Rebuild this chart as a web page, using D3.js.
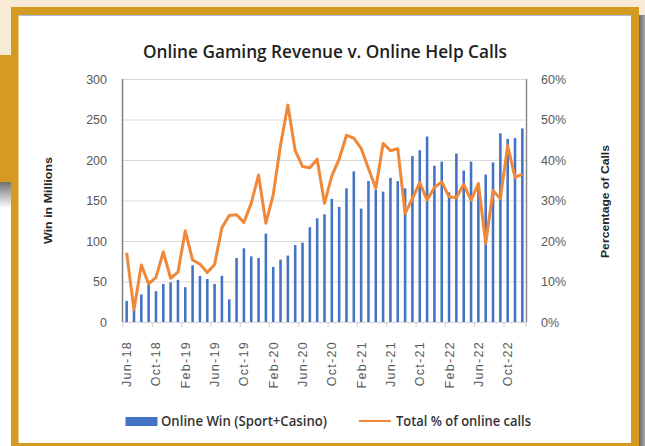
<!DOCTYPE html>
<html>
<head>
<meta charset="utf-8">
<script src="https://cdn.jsdelivr.net/npm/d3@7"></script>
<style>
html, body {margin:0; padding:0; background:#fff;}
svg {display:block; font-family:"Liberation Sans", Arial, sans-serif;}
</style>
</head>
<body>
<svg id="chart" width="645" height="446"></svg>
<script>
// monthly categories, Jun-18 .. Dec-22
var months = ["Jun-18","Jul-18","Aug-18","Sep-18","Oct-18","Nov-18","Dec-18",
    "Jan-19","Feb-19","Mar-19","Apr-19","May-19","Jun-19","Jul-19","Aug-19","Sep-19","Oct-19","Nov-19","Dec-19",
    "Jan-20","Feb-20","Mar-20","Apr-20","May-20","Jun-20","Jul-20","Aug-20","Sep-20","Oct-20","Nov-20","Dec-20",
    "Jan-21","Feb-21","Mar-21","Apr-21","May-21","Jun-21","Jul-21","Aug-21","Sep-21","Oct-21","Nov-21","Dec-21",
    "Jan-22","Feb-22","Mar-22","Apr-22","May-22","Jun-22","Jul-22","Aug-22","Sep-22","Oct-22","Nov-22","Dec-22"];
// Online Win (Sport+Casino), millions
var onlineWin = [26,15,34,46,38,47,49,52,43,70,57,53,47,57,28,79,91,81,79,109,
    68,77,82,95,98,117,128,133,152,142,165,186,140,174,163,161,178,174,165,205,
    212,229,193,198,160,208,187,198,170,182,197,233,226,227,239];
// Total % of online calls
var callPct = [17.1,3.0,14.1,9.4,11.0,17.3,10.8,12.3,22.5,15.3,14.3,12.2,14.2,23.3,26.3,
    26.5,24.6,29.3,36.3,24.4,31.4,43.7,53.6,42.3,38.4,38.1,40.2,29.3,36.1,40.2,
    46.1,45.4,42.9,37.9,33.0,44.1,42.3,42.8,26.8,30.5,34.4,30.1,33.2,34.6,30.9,
    30.7,34.0,30.1,34.2,19.4,32.4,30.5,43.5,35.7,36.5];
var winTicks = [0,50,100,150,200,250,300];
var pctTicks = [0,10,20,30,40,50,60];

var svg = d3.select("#chart");
var gold = "#d49a22", beige = "#f7ead6";
var headFont = "'Open Sans', 'Liberation Sans', sans-serif";

//background, frame and shadows
var defs = svg.append("defs");
var g1 = defs.append("linearGradient").attr("id","shadeL").attr("x1",0).attr("y1",0).attr("x2",0).attr("y2",1);
g1.append("stop").attr("offset","0%").attr("stop-color","#707070");
g1.append("stop").attr("offset","100%").attr("stop-color","#ffffff");
var g2 = defs.append("linearGradient").attr("id","shadeR").attr("x1",0).attr("y1",0).attr("x2",1).attr("y2",0);
g2.append("stop").attr("offset","0%").attr("stop-color","#6a6a6a");
g2.append("stop").attr("offset","100%").attr("stop-color","#a8a8a8");

svg.append("rect").attr("width",645).attr("height",446).attr("fill","#fff");
svg.append("rect").attr("width",645).attr("height",15).attr("fill",beige);
svg.append("rect").attr("width",11).attr("height",55).attr("fill",beige);
svg.append("rect").attr("y",55).attr("width",11).attr("height",127).attr("fill",gold);
svg.append("rect").attr("y",182).attr("width",11).attr("height",26).attr("fill","url(#shadeL)");
svg.append("rect").attr("x",639).attr("y",15).attr("width",6).attr("height",431).attr("fill","url(#shadeR)");
svg.append("rect").attr("x",11).attr("y",7).attr("width",628).attr("height",439).attr("fill",gold);
svg.append("rect").attr("x",18.5).attr("y",15).attr("width",612.5).attr("height",428).attr("fill","#fff");
svg.append("line").attr("x1",18.5).attr("x2",631).attr("y1",15.5).attr("y2",15.5)
    .attr("stroke","#a9bfdc").attr("stroke-width",1);

//scales
var plotL = 123, plotR = 526, plotT = 79, plotB = 322;
var x = d3.scaleBand().domain(months).range([plotL, plotR]).paddingInner(0.65).paddingOuter(0.325);
var yWin = d3.scaleLinear().domain([0,300]).range([plotB, plotT]);
var yPct = d3.scaleLinear().domain([0,60]).range([plotB, plotT]);
var cx = function(m){ return x(m) + x.bandwidth()/2; };

//gridlines
var grid = svg.append("g").attr("transform","translate(" + plotL + ",0)")
    .call(d3.axisLeft(yWin).tickValues(winTicks).tickSize(-(plotR-plotL)).tickFormat(""));
grid.select(".domain").remove();
grid.selectAll("line").attr("stroke","#d9d9d9");

//left axis
var ax = svg.append("g").attr("transform","translate(" + plotL + ",0)")
    .call(d3.axisLeft(yWin).tickValues(winTicks).tickSize(0).tickPadding(16));
ax.select(".domain").remove();
ax.selectAll("text").attr("font-size",12.5).attr("fill","#595959").attr("font-family","Liberation Sans, sans-serif");

//right axis
var axR = svg.append("g").attr("transform","translate(" + plotR + ",0)")
    .call(d3.axisRight(yPct).tickValues(pctTicks).tickSize(0).tickPadding(15).tickFormat(function(d){return d + "%";}));
axR.select(".domain").remove();
axR.selectAll("text").attr("font-size",12.5).attr("fill","#595959").attr("font-family","Liberation Sans, sans-serif");

//bars
svg.append("g").selectAll("rect")
    .data(onlineWin).enter()
    .append("rect")
    .attr("x", function(d, i){return x(months[i]);})
    .attr("width", x.bandwidth())
    .attr("y", function(d){return yWin(d);})
    .attr("height", function(d){return plotB - yWin(d);})
    .attr("fill", "#4472c4");

//axis lines
svg.append("line").attr("x1",plotL).attr("x2",plotR).attr("y1",plotB+0.5).attr("y2",plotB+0.5).attr("stroke","#d0d0d0");
svg.append("line").attr("x1",plotL-0.5).attr("x2",plotL-0.5).attr("y1",plotT).attr("y2",plotB).attr("stroke","#7f7f7f").attr("stroke-width",1.5);
svg.append("line").attr("x1",plotR+0.5).attr("x2",plotR+0.5).attr("y1",plotT).attr("y2",plotB).attr("stroke","#8a8a8a").attr("stroke-width",1.5);

//x tick marks every 4 months
var tickIdx = d3.range(0, months.length, 4).concat([months.length]);
svg.append("g").selectAll("line")
    .data(tickIdx).enter()
    .append("line")
    .attr("x1", function(i){return plotL + i*x.step();})
    .attr("x2", function(i){return plotL + i*x.step();})
    .attr("y1", plotB).attr("y2", plotB+5)
    .attr("stroke","#d0d0d0");

//x labels
var ax2 = svg.append("g").attr("transform","translate(0," + plotB + ")")
    .call(d3.axisBottom(x).tickValues(months.filter(function(d, i){return i % 4 === 0;})).tickSize(0));
ax2.select(".domain").remove();
ax2.selectAll("text")
    .attr("transform","rotate(-90)")
    .attr("x",-19).attr("y",0).attr("dy",".36em")
    .attr("text-anchor","end")
    .attr("font-size",12.5)
    .attr("letter-spacing","1.3px")
    .attr("fill","#595959")
    .attr("font-family","Liberation Sans, sans-serif");

//line
var line = d3.line()
    .x(function(d, i){return cx(months[i]);})
    .y(function(d){return yPct(d);});
svg.append("path")
    .datum(callPct)
    .attr("d", line)
    .attr("fill","none")
    .attr("stroke","#f0883a")
    .attr("stroke-width",3)
    .attr("stroke-linejoin","round");

//titles
svg.append("text").attr("x",325).attr("y",58).attr("text-anchor","middle")
    .attr("font-family",headFont).attr("font-weight",600)
    .attr("font-size",17.5).attr("fill","#1e1e1e")
    .attr("textLength",364).attr("lengthAdjust","spacingAndGlyphs")
    .text("Online Gaming Revenue v. Online Help Calls");
svg.append("text").attr("transform","translate(48,200.5) rotate(-90)")
    .attr("text-anchor","middle").attr("dy",".35em")
    .attr("font-size",11.5).attr("font-weight","bold").attr("fill","#262626")
    .attr("textLength",87).attr("lengthAdjust","spacingAndGlyphs")
    .text("Win in Millions");
svg.append("text").attr("transform","translate(605,201.5) rotate(-90)")
    .attr("text-anchor","middle").attr("dy",".35em")
    .attr("font-size",11.5).attr("font-weight","bold").attr("fill","#262626")
    .attr("textLength",113).attr("lengthAdjust","spacingAndGlyphs")
    .text("Percentage of Calls");

//legend
var lg = svg.append("g");
lg.append("rect").attr("x",125.5).attr("y",417).attr("width",32).attr("height",9).attr("fill","#4472c4");
lg.append("text").attr("x",161).attr("y",421).attr("dy",".35em")
    .attr("font-family",headFont).attr("font-weight",600)
    .attr("font-size",13.5).attr("fill","#333")
    .attr("textLength",166).attr("lengthAdjust","spacingAndGlyphs")
    .text("Online Win (Sport+Casino)");
lg.append("line").attr("x1",359).attr("x2",391).attr("y1",421).attr("y2",421)
    .attr("stroke","#f0883a").attr("stroke-width",2);
lg.append("text").attr("x",396).attr("y",421).attr("dy",".35em")
    .attr("font-family",headFont).attr("font-weight",600)
    .attr("font-size",13.5).attr("fill","#333")
    .attr("textLength",135).attr("lengthAdjust","spacingAndGlyphs")
    .text("Total % of online calls");
</script>
</body>
</html>
